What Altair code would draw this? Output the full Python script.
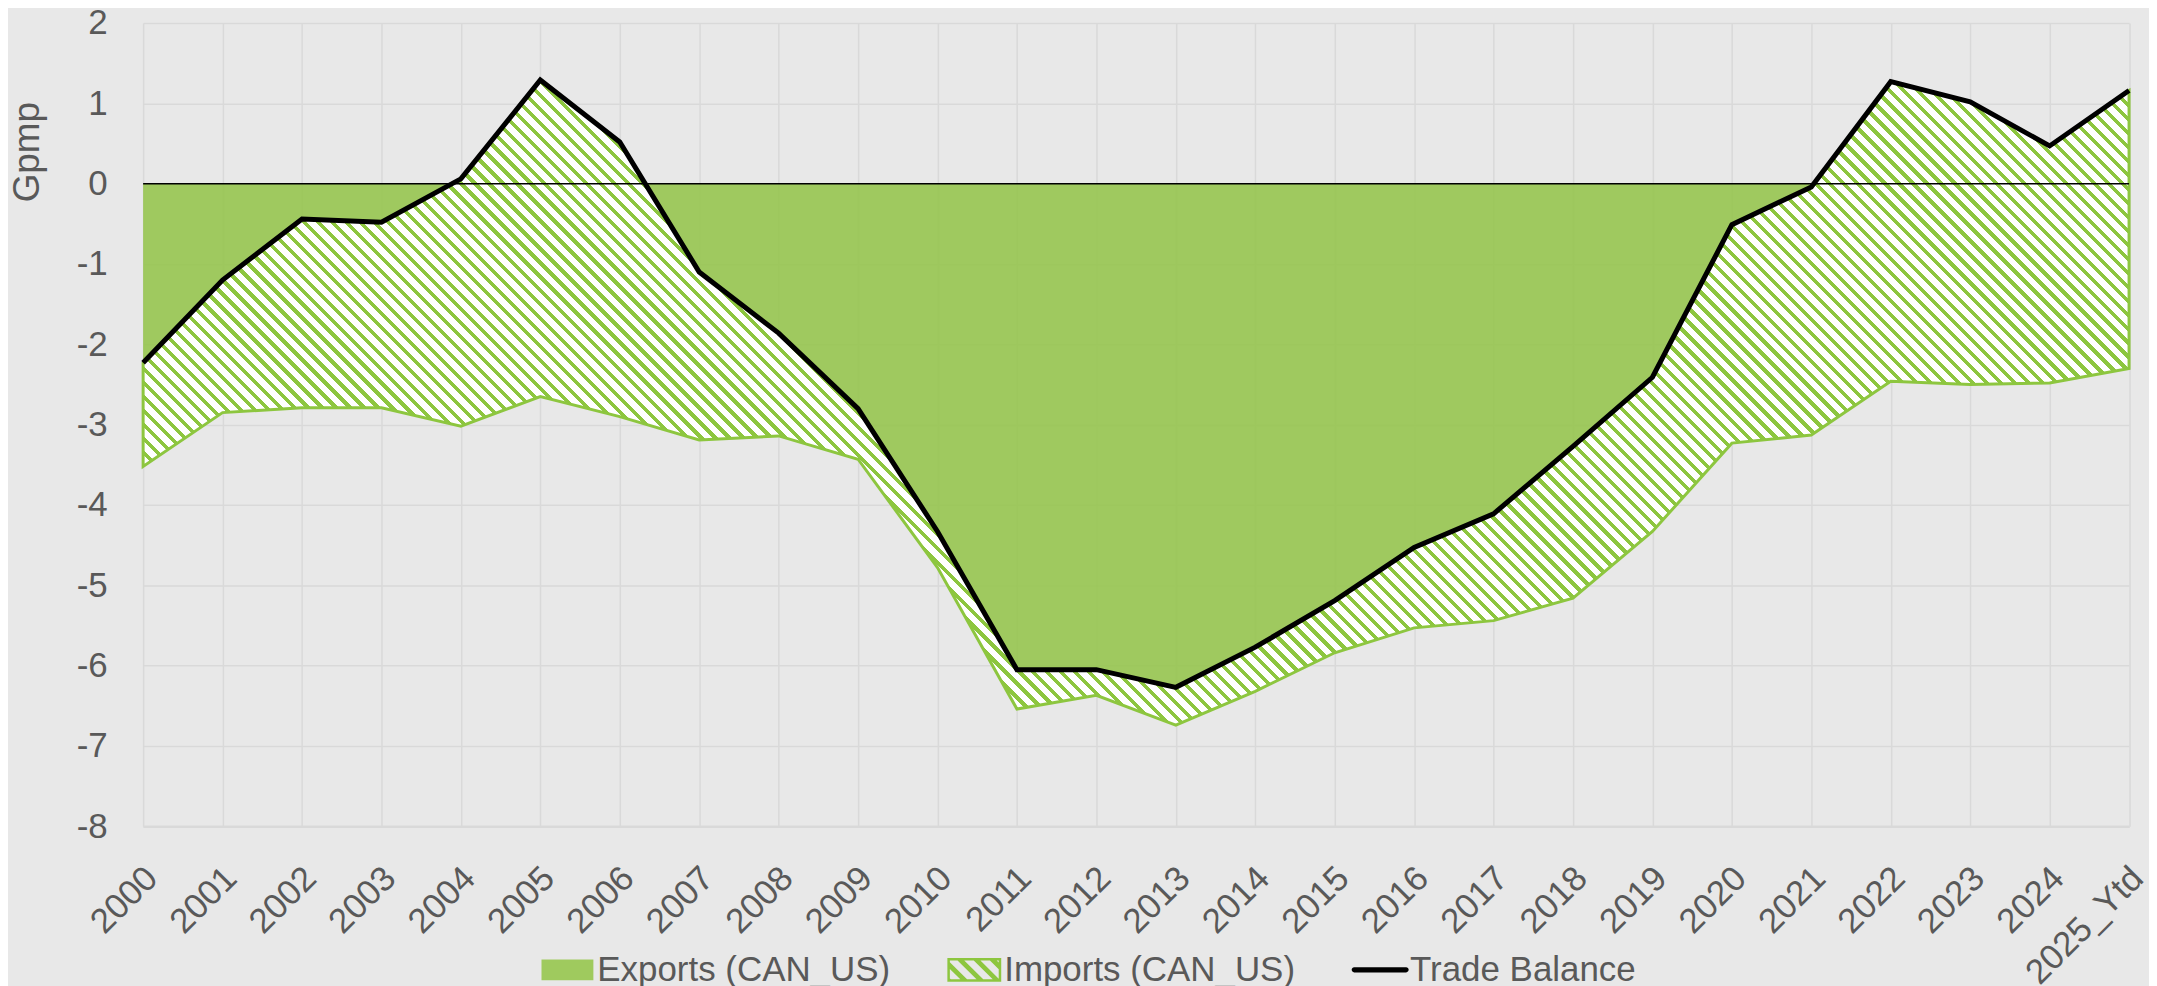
import altair as alt
import pandas as pd

# ---------------- data ----------------
years = [str(y) for y in range(2000, 2025)] + ["2025_Ytd"]
trade_balance = [-2.23, -1.20, -0.44, -0.48, 0.06, 1.29, 0.52, -1.10, -1.86, -2.80,
                 -4.33, -6.05, -6.05, -6.27, -5.77, -5.19, -4.53, -4.11, -3.27, -2.41,
                 -0.51, -0.04, 1.27, 1.02, 0.47, 1.16]
imports_low = [-3.52, -2.85, -2.79, -2.79, -3.02, -2.65, -2.90, -3.19, -3.14, -3.43,
               -4.78, -6.54, -6.37, -6.74, -6.32, -5.84, -5.53, -5.44, -5.16, -4.33,
               -3.23, -3.13, -2.46, -2.50, -2.48, -2.30]
series_names = ["Exports (CAN_US)", "Imports (CAN_US)", "Trade Balance"]
y_ticks = list(range(-8, 3))

# ---------------- style ----------------
FONT = "Liberation Sans"
FS = 35
BG = "#E8E8E8"
GRID = "#D9D9D9"
TXT = "#595959"
GREEN = "#98C652"
GREEN_LEG = "#9FCA5E"
HATCH = "#8DC63F"
W, H = 1991.5, 805.5
Y_MIN, Y_MAX = -8, 2

df = pd.DataFrame({"year": years, "balance": trade_balance, "low": imports_low})

# ---- diagonal hatch as a hard-stop linear gradient (objectBoundingBox) ----
px_per_unit = H / (Y_MAX - Y_MIN)
bw = W
bh = (max(trade_balance + imports_low) - min(trade_balance + imports_low)) * px_per_unit
r = bh / bw
dx = (1 + r) / (1 + r * r)
period = 14.0
green_frac = 0.38
pt = period / (bw + bh)
stops = [{"offset": 0, "color": "#FFFFFF"}]
o = 0.002
while o < 1:
    a = round(o, 6)
    b = round(min(o + green_frac * pt, 1), 6)
    stops += [{"offset": a, "color": "#FFFFFF"}, {"offset": a, "color": HATCH},
              {"offset": b, "color": HATCH}, {"offset": b, "color": "#FFFFFF"}]
    o += pt
stops.append({"offset": 1, "color": "#FFFFFF"})
hatch_fill = {"gradient": "linear", "x1": 0, "y1": 1, "x2": round(dx, 6),
              "y2": round(1 - r * dx, 6), "stops": stops}

# ---- legend symbol paths (unit = 28px at size 3136) ----
def clip(poly, fn):
    out = []
    n = len(poly)
    for i in range(n):
        p, q = poly[i], poly[(i + 1) % n]
        fp, fq = fn(p), fn(q)
        if fp >= 0:
            out.append(p)
        if (fp >= 0) != (fq >= 0):
            t = fp / (fp - fq)
            out.append((p[0] + t * (q[0] - p[0]), p[1] + t * (q[1] - p[1])))
    return out

def poly_path(poly):
    return "M" + "L".join(f"{x:.3f},{y:.3f}" for x, y in poly) + "Z"

ox, oy, ix, iy = 0.964, 0.429, 0.875, 0.34
imp_path = (f"M{-ox},{-oy}H{ox}V{oy}H{-ox}Z"
            f"M{-ix},{-iy}V{iy}H{ix}V{-iy}Z")
inner = [(-ix, -iy), (ix, -iy), (ix, iy), (-ix, iy)]
c = -2.0
while c < 2.0:
    cc, ww = c, 0.24
    pg = clip(inner, lambda p, cc=cc: (p[0] - p[1]) - cc)
    pg = clip(pg, lambda p, cc=cc, ww=ww: cc + ww - (p[0] - p[1])) if pg else pg
    if len(pg) >= 3:
        imp_path += poly_path(pg)
    c += 0.58
exp_path = "M-0.929,-0.375H0.929V0.375H-0.929Z"
bal_path = ("M-0.93,-0.09H0.93A0.09,0.09 0 0 1 0.93,0.09"
            "H-0.93A0.09,0.09 0 0 1 -0.93,-0.09Z")

# ---------------- chart ----------------
x_enc = alt.X("year:O", sort=years,
              scale=alt.Scale(type="point", padding=0),
              axis=alt.Axis(title=None, labelAngle=-45, labelAlign="right",
                            labelBaseline="middle", labelPadding=46, labelOffset=8,
                            ticks=False, tickSize=0, grid=True, gridColor=GRID,
                            gridWidth=1.5, domainColor=GRID, domainWidth=2.5,
                            labelFont=FONT, labelFontSize=FS, labelColor=TXT,
                            labelOverlap=False))
y_scale = alt.Scale(domain=[Y_MIN, Y_MAX], nice=False, zero=False)
y_axis = alt.Axis(values=y_ticks, labelExpr="'' + datum.value", ticks=False, tickSize=0,
                  domain=False, grid=True, gridColor=GRID, gridWidth=1.5,
                  labelFont=FONT, labelFontSize=FS, labelColor=TXT, labelPadding=36,
                  title="Gpmp", titleFont=FONT, titleFontSize=37, titleColor=TXT,
                  titleFontWeight="normal", titleAngle=270, titleAlign="center",
                  titleBaseline="middle", titleX=-116, titleY=129)

base = alt.Chart(df)

exports_area = base.mark_area(color=GREEN, opacity=0.92).encode(
    x=x_enc,
    y=alt.Y("balance:Q", scale=y_scale, axis=y_axis),
    y2=alt.datum(0),
)

imports_area = base.mark_area(fill=hatch_fill, stroke=HATCH, strokeWidth=3,
                              strokeJoin="miter").encode(
    x=x_enc,
    y=alt.Y("balance:Q", scale=y_scale, axis=y_axis),
    y2="low:Q",
)

zero_rule = alt.Chart(pd.DataFrame({"z": [0]})).mark_rule(
    color="black", strokeWidth=1.5).encode(y=alt.Y("z:Q", scale=y_scale, axis=y_axis))

balance_line = base.mark_line(color="black", strokeWidth=5).encode(
    x=x_enc,
    y=alt.Y("balance:Q", scale=y_scale, axis=y_axis),
)

leg = alt.Legend(title=None, orient="none", legendX=397.5, legendY=921.5,
                 direction="horizontal", symbolSize=3136, symbolStrokeWidth=0,
                 symbolOpacity=1, labelFont=FONT, labelFontSize=FS, labelColor=TXT,
                 labelOffset=2, columnPadding=56, padding=0, labelLimit=500)

legend_layer = alt.Chart(pd.DataFrame({"series": series_names})).transform_filter(
    "false").mark_point(filled=True, opacity=1).encode(
    color=alt.Color("series:N",
                    scale=alt.Scale(domain=series_names,
                                    range=[GREEN_LEG, HATCH, "black"]),
                    legend=leg),
    shape=alt.Shape("series:N",
                    scale=alt.Scale(domain=series_names,
                                    range=[exp_path, imp_path, bal_path]),
                    legend=leg),
)

chart = alt.layer(exports_area, imports_area, zero_rule, balance_line, legend_layer).properties(
    width=W, height=H,
    autosize=alt.AutoSizeParams(type="none"),
    padding={"left": 135.5, "top": 13.7, "right": 20, "bottom": 158.8},
).configure(background=BG).configure_view(stroke=None)

chart.save("out.html", embed_options={"renderer": "svg", "actions": False})
